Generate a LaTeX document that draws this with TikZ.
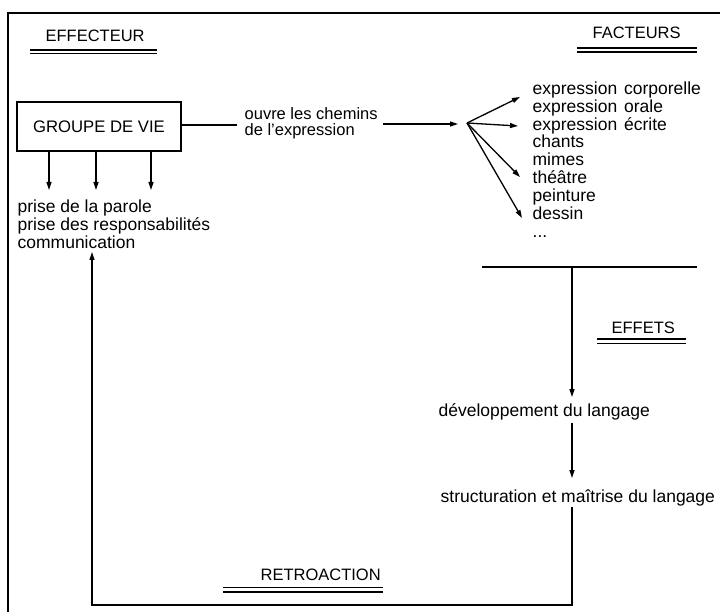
\documentclass[tikz,border=0pt]{standalone}
\usepackage{fontspec}
\setmainfont{Liberation Sans}
\usetikzlibrary{arrows.meta}
\begin{document}
\begin{tikzpicture}[x=1pt,y=-1pt,
  line width=1.3pt,
  txt/.style={inner sep=0pt, anchor=base west, font=\fontsize{17.5}{18}\selectfont},
  ttl/.style={inner sep=0pt, anchor=base west, font=\fontsize{16.5}{18}\selectfont},
  arr/.style={-{Triangle[length=8pt,width=5pt]}},
  uline/.style={line width=1.3pt}]
\useasboundingbox (0,0) rectangle (720,612);
% frame
\coordinate (frTR) at (720,13);
\coordinate (frTL) at (8,13);
\coordinate (frBL) at (8,612);
\draw (frTR) -- (frTL) -- (frBL);

% titles
\node[ttl] (teff) at (45,42) {EFFECTEUR};
\draw[uline] (30,50) -- (157,50) (30,53.5) -- (157,53.5);
\node[ttl] (tfac) at (592,38.5) {FACTEURS};
\draw[uline] (577,48) -- (697,48) (577,52) -- (697,52);
\node[ttl] (teft) at (611,333) {EFFETS};
\draw[uline] (597,339) -- (686,339) (597,343.5) -- (686,343.5);
\node[ttl] (tret) at (260,580) {RETROACTION};
\draw[uline] (223,587.5) -- (383,587.5) (223,592) -- (383,592);

% groupe de vie
\node[draw, minimum width=164pt, minimum height=49pt, inner sep=0pt,
      font=\fontsize{16.7}{18}\selectfont] (gv) at (99,126.5) {GROUPE DE VIE};
\coordinate (c1) at (237,125);
\draw (gv.east |- c1) -- (c1);
\node[txt, align=left, anchor=west, font=\fontsize{16.5}{16}\selectfont] (ouvre) at (244,123)
  {ouvre les chemins\\de l'expression};

% fan
\coordinate (a1) at (383,124);
\coordinate (a2) at (458,124);
\draw[arr] (a1) -- (a2);
\coordinate (fo) at (467,123);
\coordinate (f1) at (520,97);
\coordinate (f2) at (518,126);
\coordinate (f3) at (520,177);
\coordinate (f4) at (522,218);
\foreach \f in {f1,f2,f3,f4} \draw[arr] (fo) -- (\f);

\node[txt] (fac1) at (532,94.3) {expression\hspace{2pt} corporelle};
\node[txt] (fac2) at (532,112.2) {expression\hspace{2pt} orale};
\node[txt] (fac3) at (532,130.1) {expression\hspace{2pt} écrite};
\node[txt] (fac4) at (532,148.0) {chants};
\node[txt] (fac5) at (532,165.9) {mimes};
\node[txt] (fac6) at (532,183.8) {théâtre};
\node[txt] (fac7) at (532,201.7) {peinture};
\node[txt] (fac8) at (532,219.6) {dessin};
\node[txt] (fac9) at (532,237.5) {...};

% down arrows from groupe
\coordinate (d1) at (49,190);
\coordinate (d2) at (96,190);
\coordinate (d3) at (151,190);
\foreach \d in {d1,d2,d3} \draw[arr] (gv.south -| \d) -- (\d);

\node[txt] (p1) at (17,212.5) {prise de la parole};
\node[txt] (p2) at (17,231) {prise des responsabilités};
\node[txt] (p3) at (17,248.5) {communication};

% retroaction loop
\coordinate (r0) at (92,252);
\coordinate (r1) at (92,605);
\coordinate (r2) at (572,605);
\coordinate (r3) at (572,507);
\draw[arr] (r3) -- (r2) -- (r1) -- (r0);

% effets column
\coordinate (h1) at (482,267);
\coordinate (h2) at (697,267);
\draw (h1) -- (h2);
\coordinate (v0) at (572,267);
\coordinate (v1) at (572,397);
\draw[arr] (v0) -- (v1);
\node[txt] (dev) at (438,416) {développement du langage};
\coordinate (v2) at (572,423);
\coordinate (v3) at (572,478);
\draw[arr] (v2) -- (v3);
\node[txt] (str) at (440,502) {structuration et maîtrise du langage};
\end{tikzpicture}
\end{document}
